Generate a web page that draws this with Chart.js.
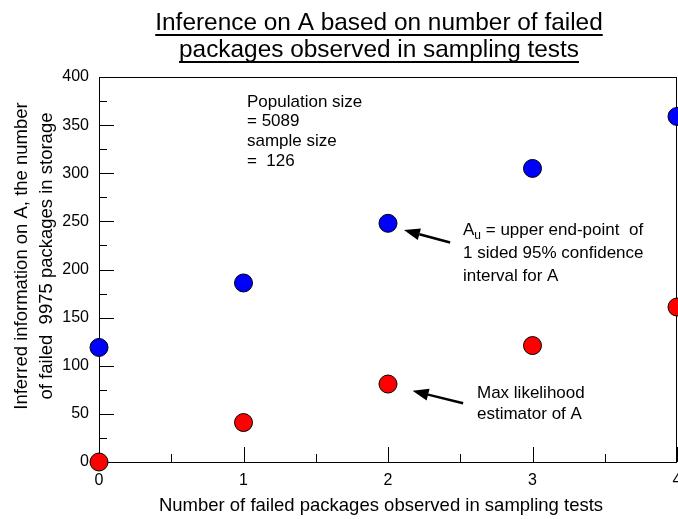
<!DOCTYPE html>
<html>
<head>
<meta charset="utf-8">
<script src="https://cdn.jsdelivr.net/npm/chart.js@4/dist/chart.umd.min.js"></script>
<style>
  html, body { margin: 0; padding: 0; background: #fff; }
  #wrap { width: 678px; height: 519px; }
</style>
</head>
<body>
<div id="wrap"><canvas id="c" width="678" height="519"></canvas></div>
<script>
// ════════════════════════════════════════
// DATA
// ════════════════════════════════════════
const failedObserved = [0, 1, 2, 3, 4];
const upperEndPoint = [119, 186, 248, 305, 359];   // A_u, blue
const maxLikelihood = [0, 41, 81, 121, 161];       // MLE, red
const xTickLabels = ['0', '1', '2', '3', '4'];

const titleLines = ['Inference on A based on number of failed', 'packages observed in sampling tests'];
const yTitleLines = ['Inferred information on A, the number', 'of failed  9975 packages in storage'];
const xTitle = 'Number of failed packages observed in sampling tests';

const FONT = "Arial, 'Liberation Sans', sans-serif";

// ════════════════════════════════════════
// DECORATION PLUGIN: frame, inward ticks, titles, notes, arrows
// ════════════════════════════════════════
function arrow(ctx, x1, y1, x2, y2) {
    const ang = Math.atan2(y2 - y1, x2 - x1);
    const hl = 16, hw = 6;
    const bx = x2 - hl * Math.cos(ang), by = y2 - hl * Math.sin(ang);
    ctx.beginPath();
    ctx.moveTo(x1, y1);
    ctx.lineTo(bx, by);
    ctx.lineWidth = 2.5;
    ctx.strokeStyle = '#000';
    ctx.stroke();
    ctx.beginPath();
    ctx.moveTo(x2, y2);
    ctx.lineTo(bx + hw * Math.sin(ang), by - hw * Math.cos(ang));
    ctx.lineTo(bx - hw * Math.sin(ang), by + hw * Math.cos(ang));
    ctx.closePath();
    ctx.fillStyle = '#000';
    ctx.fill();
}

const decor = {
    id: 'decor',
    beforeDatasetsDraw(chart) {
        const { ctx, chartArea: a, scales: { x, y } } = chart;
        ctx.save();
        ctx.strokeStyle = '#000';
        ctx.lineWidth = 1;
        ctx.strokeRect(a.left + 0.5, a.top + 0.5, a.right - a.left - 1, a.bottom - a.top);
        // y ticks (inward)
        for (let v = 0; v <= 400; v += 25) {
            const py = Math.round(y.getPixelForValue(v)) + 0.5;
            const len = v % 50 === 0 ? 15 : 8;
            ctx.beginPath();
            ctx.moveTo(a.left, py);
            ctx.lineTo(a.left + len, py);
            ctx.stroke();
        }
        // x ticks (inward)
        for (let v = 0; v <= 4; v += 0.5) {
            const px = Math.round(x.getPixelForValue(v)) + 0.5;
            const len = v % 1 === 0 ? 15 : 8;
            ctx.beginPath();
            ctx.moveTo(px, a.bottom);
            ctx.lineTo(px, a.bottom - len);
            ctx.stroke();
        }
        // x tick labels (drawn here so the last one may run off the canvas)
        ctx.fillStyle = '#000';
        ctx.font = `16px ${FONT}`;
        ctx.textAlign = 'center';
        ctx.textBaseline = 'middle';
        xTickLabels.forEach((t, i) => {
            ctx.fillText(t, x.getPixelForValue(i), a.bottom + 19);
        });
        ctx.restore();
    },
    afterDraw(chart) {
        const { ctx, scales: { x, y } } = chart;
        ctx.save();
        ctx.fillStyle = '#000';

        // title, underlined
        ctx.font = `24.4px ${FONT}`;
        ctx.textAlign = 'center';
        ctx.textBaseline = 'alphabetic';
        const tBase = [30, 57];
        titleLines.forEach((t, i) => {
            ctx.fillText(t, 379, tBase[i]);
            const w = ctx.measureText(t).width;
            ctx.fillRect(379 - w / 2, tBase[i] + 4, w, 2);
        });

        // axis titles
        ctx.font = `18.5px ${FONT}`;
        ctx.textBaseline = 'middle';
        ctx.fillText(xTitle, 381, 506);
        ctx.save();
        ctx.translate(22, 256);
        ctx.rotate(-Math.PI / 2);
        ctx.fillText(yTitleLines[0], 0, 0);
        ctx.fillText(yTitleLines[1], 0, 25);
        ctx.restore();

        // notes
        ctx.font = `17px ${FONT}`;
        ctx.textAlign = 'left';
        ['Population size', '= 5089', 'sample size', '=  126'].forEach((t, i) => {
            ctx.fillText(t, 247, 102 + i * 19.7);
        });

        // A_u note with subscript
        ctx.fillText('A', 463, 230);
        const aw = ctx.measureText('A').width;
        ctx.font = `12px ${FONT}`;
        ctx.fillText('u', 463 + aw, 236);
        const uw = ctx.measureText('u').width;
        ctx.font = `17px ${FONT}`;
        ctx.fillText(' = upper end-point  of', 463 + aw + uw, 230);
        ctx.fillText('1 sided 95% confidence', 463, 253);
        ctx.fillText('interval for A', 463, 276);

        ctx.fillText('Max likelihood', 477, 393);
        ctx.fillText('estimator of A', 477, 414);

        // arrows anchored in data units
        arrow(ctx, x.getPixelForValue(2.43), y.getPixelForValue(228),
                   x.getPixelForValue(2.11), y.getPixelForValue(241));
        arrow(ctx, x.getPixelForValue(2.52), y.getPixelForValue(61),
                   x.getPixelForValue(2.17), y.getPixelForValue(74));
        ctx.restore();
    }
};

// ════════════════════════════════════════
// CHART
// ════════════════════════════════════════
const pts = vals => failedObserved.map((f, i) => ({ x: f, y: vals[i] }));

new Chart(document.getElementById('c'), {
    type: 'scatter',
    data: {
        datasets: [
            {
                label: 'A_u',
                data: pts(upperEndPoint),
                backgroundColor: '#0000FF',
                borderColor: '#000',
                borderWidth: 1,
                pointRadius: 9,
                clip: false,
            },
            {
                label: 'MLE',
                data: pts(maxLikelihood),
                backgroundColor: '#FF0000',
                borderColor: '#000',
                borderWidth: 1,
                pointRadius: 9,
                clip: false,
            }
        ]
    },
    options: {
        responsive: false,
        animation: false,
        layout: { autoPadding: false, padding: { top: 77, right: 1, left: 0, bottom: 0 } },
        plugins: { legend: { display: false }, tooltip: { enabled: false } },
        scales: {
            x: {
                type: 'linear', min: 0, max: 4,
                afterFit: s => { s.height = 57; },
                grid: { display: false, drawTicks: false },
                border: { display: false },
                ticks: { display: false, stepSize: 1 },
            },
            y: {
                min: 0, max: 400,
                afterFit: s => { s.width = 99; },
                grid: { display: false, drawTicks: false },
                border: { display: false },
                ticks: {
                    stepSize: 50, padding: 10,
                    color: '#000',
                    font: { family: FONT, size: 16 },
                },
            }
        }
    },
    plugins: [decor]
});
</script>
</body>
</html>
